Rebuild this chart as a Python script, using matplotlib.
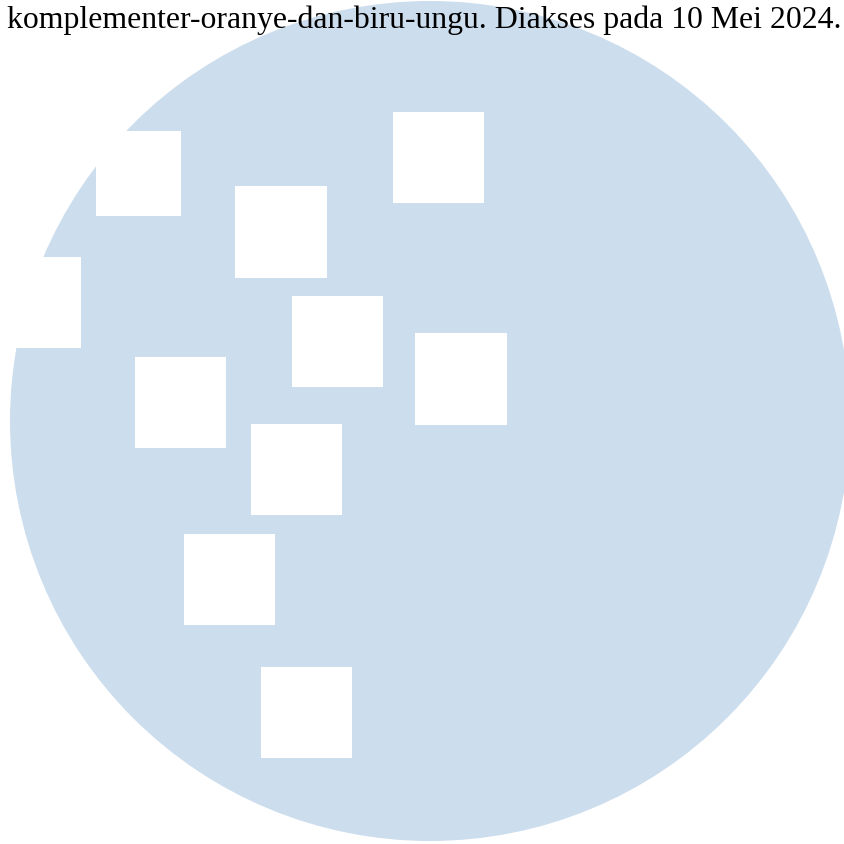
import matplotlib
matplotlib.use("Agg")
import matplotlib.pyplot as plt
import matplotlib.patches as mpatches

W, H = 845, 844

# circle watermark (pixel coords, y down)
circle_center = (430, 421)
circle_radius = 420
circle_color = "#CCDDED"

# white squares: left, top, width, height
sq_left = [96, 235, 393, -10, 292, 415, 135, 251, 184, 261]
sq_top = [131, 186, 112, 257, 296, 333, 357, 424, 534, 667]
sq_w = [85, 92, 91, 91, 91, 92, 91, 91, 91, 91]
sq_h = [85, 92, 91, 91, 91, 92, 91, 91, 91, 91]

caption = "komplementer-oranye-dan-biru-ungu. Diakses pada 10 Mei 2024."

fig = plt.figure(figsize=(W / 100, H / 100), dpi=100)
ax = fig.add_axes([0, 0, 1, 1])
ax.set_xlim(0, W)
ax.set_ylim(H, 0)
ax.axis("off")

ax.add_patch(mpatches.Circle(circle_center, circle_radius, color=circle_color, lw=0))
for x, y, w, h in zip(sq_left, sq_top, sq_w, sq_h):
    ax.add_patch(mpatches.Rectangle((x, y), w, h, color="white", lw=0))

ax.text(7, 28, caption, family="Liberation Serif", fontsize=22.9,
        color="black", ha="left", va="baseline")

fig.savefig("out.png", dpi=100)
